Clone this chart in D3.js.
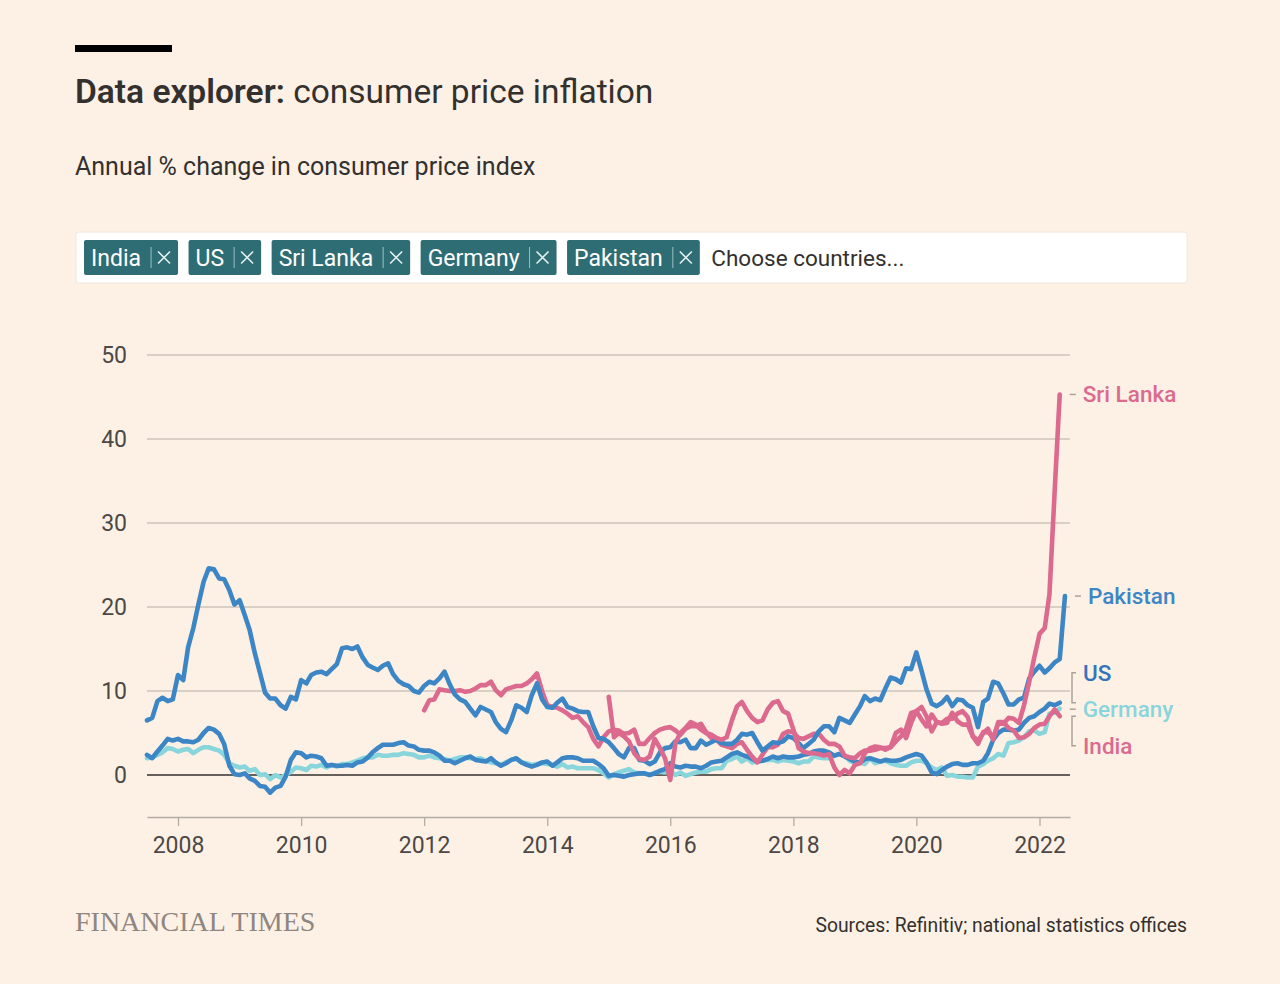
<!DOCTYPE html>
<html>
<head>
<meta charset="utf-8">
<title>Data explorer: consumer price inflation</title>
<script src="https://cdn.jsdelivr.net/npm/d3@7"></script>
<style>
  body { margin: 0; background: #fdf1e6; }
  svg { display: block; font-family: Roboto, "Noto Sans", sans-serif; }
</style>
</head>
<body>
<script>
// ---- data (annual % change in CPI, monthly) ----
const countries = ["India", "US", "Sri Lanka", "Germany", "Pakistan"];
const yTicks = [0, 10, 20, 30, 40, 50];
const xTickYears = [2008, 2010, 2012, 2014, 2016, 2018, 2020, 2022];

// first month of each series: [year, month (1-12)]
const usStart = [2007, 7];
const germanyStart = [2007, 7];
const pakistanStart = [2007, 7];
const indiaStart = [2012, 1];
const sriLankaStart = [2015, 1];

const usValues = [
  2.4, 2.0, 2.8, 3.5, 4.3, 4.1,
  4.3, 4.0, 4.0, 3.9, 4.2, 5.0, 5.6, 5.4, 4.9, 3.7, 1.1, 0.1,
  0.0, 0.2, -0.4, -0.7, -1.3, -1.4, -2.1, -1.5, -1.3, -0.2, 1.8, 2.7,
  2.6, 2.1, 2.3, 2.2, 2.0, 1.1, 1.2, 1.1, 1.1, 1.2, 1.1, 1.5,
  1.6, 2.1, 2.7, 3.2, 3.6, 3.6, 3.6, 3.8, 3.9, 3.5, 3.4, 3.0,
  2.9, 2.9, 2.7, 2.3, 1.7, 1.7, 1.4, 1.7, 2.0, 2.2, 1.8, 1.7,
  1.6, 2.0, 1.5, 1.1, 1.4, 1.8, 2.0, 1.5, 1.2, 1.0, 1.2, 1.5,
  1.6, 1.1, 1.5, 2.0, 2.1, 2.1, 2.0, 1.7, 1.7, 1.7, 1.3, 0.8,
  -0.1, 0.0, -0.1, -0.2, 0.0, 0.1, 0.2, 0.2, 0.0, 0.2, 0.5, 0.7,
  1.4, 1.0, 0.9, 1.1, 1.0, 1.0, 0.8, 1.1, 1.5, 1.6, 1.7, 2.1,
  2.5, 2.7, 2.4, 2.2, 1.9, 1.6, 1.7, 1.9, 2.2, 2.0, 2.2, 2.1,
  2.1, 2.2, 2.4, 2.5, 2.8, 2.9, 2.9, 2.7, 2.3, 2.5, 2.2, 1.9,
  1.6, 1.5, 1.9, 2.0, 1.8, 1.6, 1.8, 1.7, 1.7, 1.8, 2.1, 2.3,
  2.5, 2.3, 1.5, 0.3, 0.1, 0.6, 1.0, 1.3, 1.4, 1.2, 1.2, 1.4,
  1.4, 1.7, 2.6, 4.2, 5.0, 5.4, 5.4, 5.3, 5.4, 6.2, 6.8, 7.0,
  7.5, 7.9, 8.5, 8.3, 8.6
];

const germanyValues = [
  2.0, 2.1, 2.4, 2.7, 3.2, 3.1,
  2.8, 3.0, 3.1, 2.6, 3.0, 3.3, 3.3, 3.1, 2.9, 2.4, 1.4, 1.1,
  0.9, 1.0, 0.5, 0.7, 0.0, 0.1, -0.5, 0.0, -0.3, 0.0, 0.4, 0.9,
  0.8, 0.6, 1.1, 1.0, 1.2, 0.9, 1.2, 1.0, 1.3, 1.3, 1.5, 1.7,
  2.0, 2.1, 2.1, 2.4, 2.3, 2.3, 2.4, 2.4, 2.6, 2.5, 2.4, 2.1,
  2.1, 2.3, 2.1, 2.0, 1.9, 1.7, 1.9, 2.1, 2.1, 2.0, 1.9, 2.0,
  1.7, 1.5, 1.4, 1.2, 1.5, 1.8, 1.9, 1.5, 1.4, 1.2, 1.3, 1.4,
  1.3, 1.2, 1.0, 1.3, 0.9, 1.0, 0.8, 0.8, 0.8, 0.8, 0.6, 0.2,
  -0.3, 0.1, 0.3, 0.5, 0.7, 0.3, 0.2, 0.2, 0.0, 0.3, 0.4, 0.3,
  0.5, 0.0, 0.3, -0.1, 0.1, 0.3, 0.4, 0.4, 0.7, 0.8, 0.8, 1.7,
  1.9, 2.2, 1.6, 2.0, 1.5, 1.6, 1.7, 1.8, 1.8, 1.6, 1.8, 1.7,
  1.6, 1.4, 1.6, 1.6, 2.2, 2.1, 2.0, 2.0, 2.3, 2.5, 2.3, 1.7,
  1.4, 1.5, 1.3, 2.0, 1.4, 1.6, 1.7, 1.4, 1.2, 1.1, 1.1, 1.5,
  1.7, 1.7, 1.4, 0.9, 0.6, 0.9, -0.1, 0.0, -0.2, -0.2, -0.3, -0.3,
  1.0, 1.3, 1.7, 2.0, 2.5, 2.3, 3.8, 3.9, 4.1, 4.5, 5.2, 5.3,
  4.9, 5.1, 7.3, 7.4, 7.9
];

const pakistanValues = [
  6.5, 6.8, 8.8, 9.2, 8.8, 9.0,
  11.9, 11.3, 15.2, 17.5, 20.3, 23.0, 24.6, 24.5, 23.4, 23.3, 22.0, 20.3,
  20.8, 19.0, 17.3, 14.5, 12.2, 9.8, 9.1, 9.1, 8.3, 7.9, 9.3, 9.0,
  11.3, 10.9, 11.9, 12.2, 12.3, 12.0, 12.6, 13.2, 15.1, 15.2, 15.0, 15.3,
  14.0, 13.1, 12.8, 12.5, 13.0, 13.3, 12.0, 11.2, 10.8, 10.6, 10.0, 9.8,
  10.6, 11.1, 10.9, 11.5, 12.3, 10.8, 9.6, 9.0, 8.7, 7.9, 7.1, 8.1,
  7.8, 7.5, 6.3, 5.5, 5.1, 6.5, 8.3, 8.0, 7.5, 9.5, 10.9, 9.0,
  8.1, 8.0, 8.6, 9.1, 8.1, 7.9, 7.6, 7.5, 7.5, 5.8, 4.4, 4.3,
  3.9, 3.2, 2.5, 2.1, 3.2, 3.2, 1.8, 1.7, 1.3, 1.6, 2.7, 3.2,
  3.3, 4.0, 3.9, 4.2, 3.2, 3.2, 4.1, 3.6, 3.9, 4.2, 3.8, 3.7,
  3.7, 4.2, 4.9, 4.8, 5.0, 3.9, 2.9, 3.4, 3.9, 3.8, 4.0, 4.6,
  4.4, 3.8, 3.2, 3.7, 4.2, 5.2, 5.8, 5.8, 5.1, 6.8, 6.5, 6.2,
  7.2, 8.2, 9.4, 8.8, 9.1, 8.9, 10.3, 11.6, 11.4, 11.0, 12.7, 12.6,
  14.6, 12.4, 10.2, 8.5, 8.2, 8.6, 9.3, 8.2, 9.0, 8.9, 8.3, 8.0,
  5.7, 8.7, 9.1, 11.1, 10.9, 9.7, 8.4, 8.4, 9.0, 9.2, 11.5, 12.3,
  13.0, 12.2, 12.7, 13.4, 13.8, 21.3
];

const indiaValues = [
  7.7, 8.9, 9.0, 10.2, 10.1, 10.0, 10.0, 10.1, 9.9, 10.0, 10.3, 10.7,
  10.7, 11.1, 10.1, 9.5, 10.2, 10.4, 10.6, 10.6, 10.9, 11.4, 12.1, 10.0,
  8.3, 8.1, 8.0, 7.7, 7.3, 6.8, 7.0, 6.3, 5.7, 4.3, 3.4, 4.5,
  5.2, 5.4, 5.3, 4.9, 5.0, 5.4, 3.7, 3.7, 4.4, 5.0, 5.4, 5.6,
  5.7, 5.3, 4.8, 5.5, 5.8, 5.8, 6.1, 5.1, 4.4, 4.2, 3.6, 3.4,
  3.2, 3.7, 3.9, 3.0, 2.2, 1.5, 2.4, 3.3, 3.3, 3.6, 4.9, 5.2,
  5.1, 4.4, 4.3, 4.6, 4.9, 4.9, 4.2, 3.7, 3.7, 3.4, 2.3, 2.1,
  2.0, 2.6, 2.9, 2.9, 3.0, 3.2, 3.2, 3.3, 4.0, 4.6, 5.5, 7.4,
  7.6, 6.6, 5.8, 7.2, 6.3, 6.2, 6.7, 6.7, 7.3, 7.6, 6.9, 4.6,
  4.1, 5.0, 5.5, 4.2, 6.3, 6.3, 5.6, 5.3, 4.4, 4.5, 4.9, 5.6,
  6.0, 6.1, 7.0, 7.8, 7.0
];

const sriLankaValues = [
  9.3, 4.5, 5.0, 4.6, 4.0, 2.6, 1.9, 1.8, 2.2, 4.3, 3.2, 2.0,
  -0.6, 3.8, 5.0, 5.6, 6.3, 6.0, 5.4, 5.0, 4.8, 4.4, 4.2, 4.5,
  6.5, 8.2, 8.7, 7.6, 6.8, 6.3, 6.5, 7.8, 8.6, 8.8, 7.6, 7.3,
  5.4, 3.2, 2.8, 2.6, 2.6, 2.5, 2.3, 2.5, 0.9, 0.0, 0.6, 0.2,
  1.2, 1.4, 2.6, 3.2, 3.4, 3.3, 3.0, 3.3, 5.0, 5.4, 4.4, 6.2,
  7.6, 8.1, 7.0, 5.2, 6.3, 6.1, 6.2, 7.4, 6.4, 6.0, 6.0, 4.6,
  3.7, 5.1, 5.1, 4.5, 6.1, 6.1, 6.8, 6.7, 6.2, 8.3, 11.1, 14.0,
  16.8, 17.5, 21.5, 33.8, 45.3
];

// ---- styling ----
const pink = "#dc6a8f";
const blue = "#3d86c6";
const teal = "#89d5dc";
const colors = { "India": pink, "Sri Lanka": pink, "US": blue, "Pakistan": blue, "Germany": teal };
const labelColors = { "India": pink, "Sri Lanka": pink, "US": "#3474ba", "Pakistan": blue, "Germany": teal };

function toSeries(name, start, values) {
  const first = new Date(start[0], start[1] - 1, 1);
  return {
    name: name,
    points: values.map((v, i) => ({ date: d3.timeMonth.offset(first, i), value: v }))
  };
}

// draw order: bottom to top
const series = [
  toSeries("Germany", germanyStart, germanyValues),
  toSeries("US", usStart, usValues),
  toSeries("India", indiaStart, indiaValues),
  toSeries("Pakistan", pakistanStart, pakistanValues),
  toSeries("Sri Lanka", sriLankaStart, sriLankaValues)
];

const width = 1280, height = 984;
const svg = d3.select("body").append("svg")
  .attr("width", width)
  .attr("height", height);

svg.append("rect").attr("width", width).attr("height", height).attr("fill", "#fdf1e6");

// header
svg.append("rect").attr("x", 75).attr("y", 45).attr("width", 97).attr("height", 7).attr("fill", "#000");

const title = svg.append("text").attr("x", 75).attr("y", 103)
  .attr("font-size", 33.5).attr("fill", "#33302e");
title.append("tspan").attr("font-weight", 600).text("Data explorer:");
title.append("tspan").attr("font-weight", 400).text(" consumer price inflation");

svg.append("text").attr("x", 75).attr("y", 175)
  .attr("font-size", 25).attr("fill", "#33302e")
  .text("Annual % change in consumer price index");

// country picker
svg.append("rect")
  .attr("x", 76).attr("y", 232).attr("width", 1111).attr("height", 51)
  .attr("rx", 3).attr("fill", "#fff").attr("stroke", "#efe6dd");

let tagX = 84;
countries.forEach(name => {
  const g = svg.append("g").attr("transform", `translate(${tagX},240)`);
  const rect = g.append("rect").attr("height", 35).attr("rx", 2).attr("fill", "#2e6d74");
  const t = g.append("text").attr("x", 7).attr("y", 26)
    .attr("font-size", 23).attr("fill", "#fff").text(name);
  const tw = t.node().getComputedTextLength();
  const w = tw + 44;
  rect.attr("width", w);
  g.append("line").attr("x1", w - 27).attr("x2", w - 27).attr("y1", 7).attr("y2", 28)
    .attr("stroke", "#9cbfc2").attr("stroke-width", 1);
  const cx = w - 14, cy = 17.5, r = 6;
  g.append("path")
    .attr("d", `M${cx - r},${cy - r}L${cx + r},${cy + r}M${cx + r},${cy - r}L${cx - r},${cy + r}`)
    .attr("stroke", "#e6eff0").attr("stroke-width", 1.6);
  tagX += w + 10.5;
});
svg.append("text").attr("x", tagX + 1).attr("y", 266)
  .attr("font-size", 22.5).attr("fill", "#33302e").text("Choose countries...");

// ---- chart ----
const x = d3.scaleTime()
  .domain([new Date(2007, 6, 1), new Date(2022, 6, 1)])
  .range([147, 1070]);
const y = d3.scaleLinear().domain([-5, 50]).range([817, 355]);

const grid = svg.append("g");
grid.selectAll("line").data(yTicks).join("line")
  .attr("x1", 147).attr("x2", 1070)
  .attr("y1", d => y(d)).attr("y2", d => y(d))
  .attr("stroke", d => d === 0 ? "#66605c" : "#cdc3b9")
  .attr("stroke-width", d => d === 0 ? 2 : 1.3);

svg.append("g").selectAll("text").data(yTicks).join("text")
  .attr("x", 127).attr("y", d => y(d)).attr("dy", "0.35em")
  .attr("text-anchor", "end").attr("font-size", 23).attr("fill", "#4d4845")
  .text(d => d);

const xAxis = d3.axisBottom(x)
  .tickValues(xTickYears.map(yr => new Date(yr, 0, 1)))
  .tickFormat(d3.timeFormat("%Y"))
  .tickSize(9)
  .tickSizeOuter(0)
  .tickPadding(11);
const xg = svg.append("g").attr("transform", "translate(0,817)").call(xAxis);
xg.select(".domain").attr("stroke", "#b5aca3").attr("stroke-width", 1.5);
xg.selectAll(".tick line").attr("stroke", "#b5aca3").attr("stroke-width", 1.3);
xg.selectAll(".tick text").attr("font-size", 23).attr("fill", "#4d4845")
  .attr("font-family", "Roboto, 'Noto Sans', sans-serif");

const line = d3.line()
  .x(d => x(d.date))
  .y(d => y(d.value));

svg.append("g").selectAll("path").data(series).join("path")
  .attr("d", d => line(d.points))
  .attr("fill", "none")
  .attr("stroke", d => colors[d.name])
  .attr("stroke-width", 4.6)
  .attr("stroke-linejoin", "round")
  .attr("stroke-linecap", "round");

// ---- end labels with simple collision avoidance ----
const labels = series.map(s => {
  const last = s.points[s.points.length - 1];
  return { name: s.name, endX: x(last.date), endY: y(last.value), ly: y(last.value) };
}).sort((a, b) => a.endY - b.endY);

const gap = 36.5;
for (let iter = 0; iter < 50; iter++) {
  let moved = false;
  // cluster overlapping labels and centre each cluster on its targets
  let groups = labels.map(l => [l]);
  let merged = true;
  while (merged) {
    merged = false;
    for (let i = 0; i < groups.length - 1; i++) {
      const a = groups[i], b = groups[i + 1];
      if (a[a.length - 1].ly + gap > b[0].ly) {
        groups.splice(i, 2, a.concat(b));
        const g = groups[i];
        const mean = d3.mean(g, l => l.endY);
        const top = mean - gap * (g.length - 1) / 2;
        g.forEach((l, k) => { l.ly = top + k * gap; });
        merged = true; moved = true;
        break;
      }
    }
  }
  if (!moved) break;
}

const labelG = svg.append("g");
labels.forEach(l => {
  const bx = 1072;
  const shifted = Math.abs(l.ly - l.endY) > 4;
  if (shifted) {
    labelG.append("path")
      .attr("d", `M${bx + 4},${l.endY}H${bx}V${l.ly}H${bx + 4}`)
      .attr("fill", "none").attr("stroke", "#aaa29a").attr("stroke-width", 1.5);
  } else {
    labelG.append("line")
      .attr("x1", l.endX + 10).attr("x2", l.endX + 16)
      .attr("y1", l.ly).attr("y2", l.ly)
      .attr("stroke", "#aaa29a").attr("stroke-width", 1.5);
  }
  labelG.append("text")
    .attr("x", shifted ? 1083 : l.endX + 23)
    .attr("y", l.ly).attr("dy", "0.35em")
    .attr("font-size", 22.5).attr("font-weight", 500)
    .attr("fill", labelColors[l.name])
    .text(l.name);
});

// ---- footer ----
svg.append("text").attr("x", 75).attr("y", 931)
  .attr("font-family", "'Liberation Serif', 'DejaVu Serif', serif")
  .attr("font-size", 28).attr("fill", "#8e8680")
  .text("FINANCIAL TIMES");

svg.append("text").attr("x", 1187).attr("y", 932)
  .attr("text-anchor", "end").attr("font-size", 19.3).attr("fill", "#33302e")
  .text("Sources: Refinitiv; national statistics offices");
</script>
</body>
</html>
